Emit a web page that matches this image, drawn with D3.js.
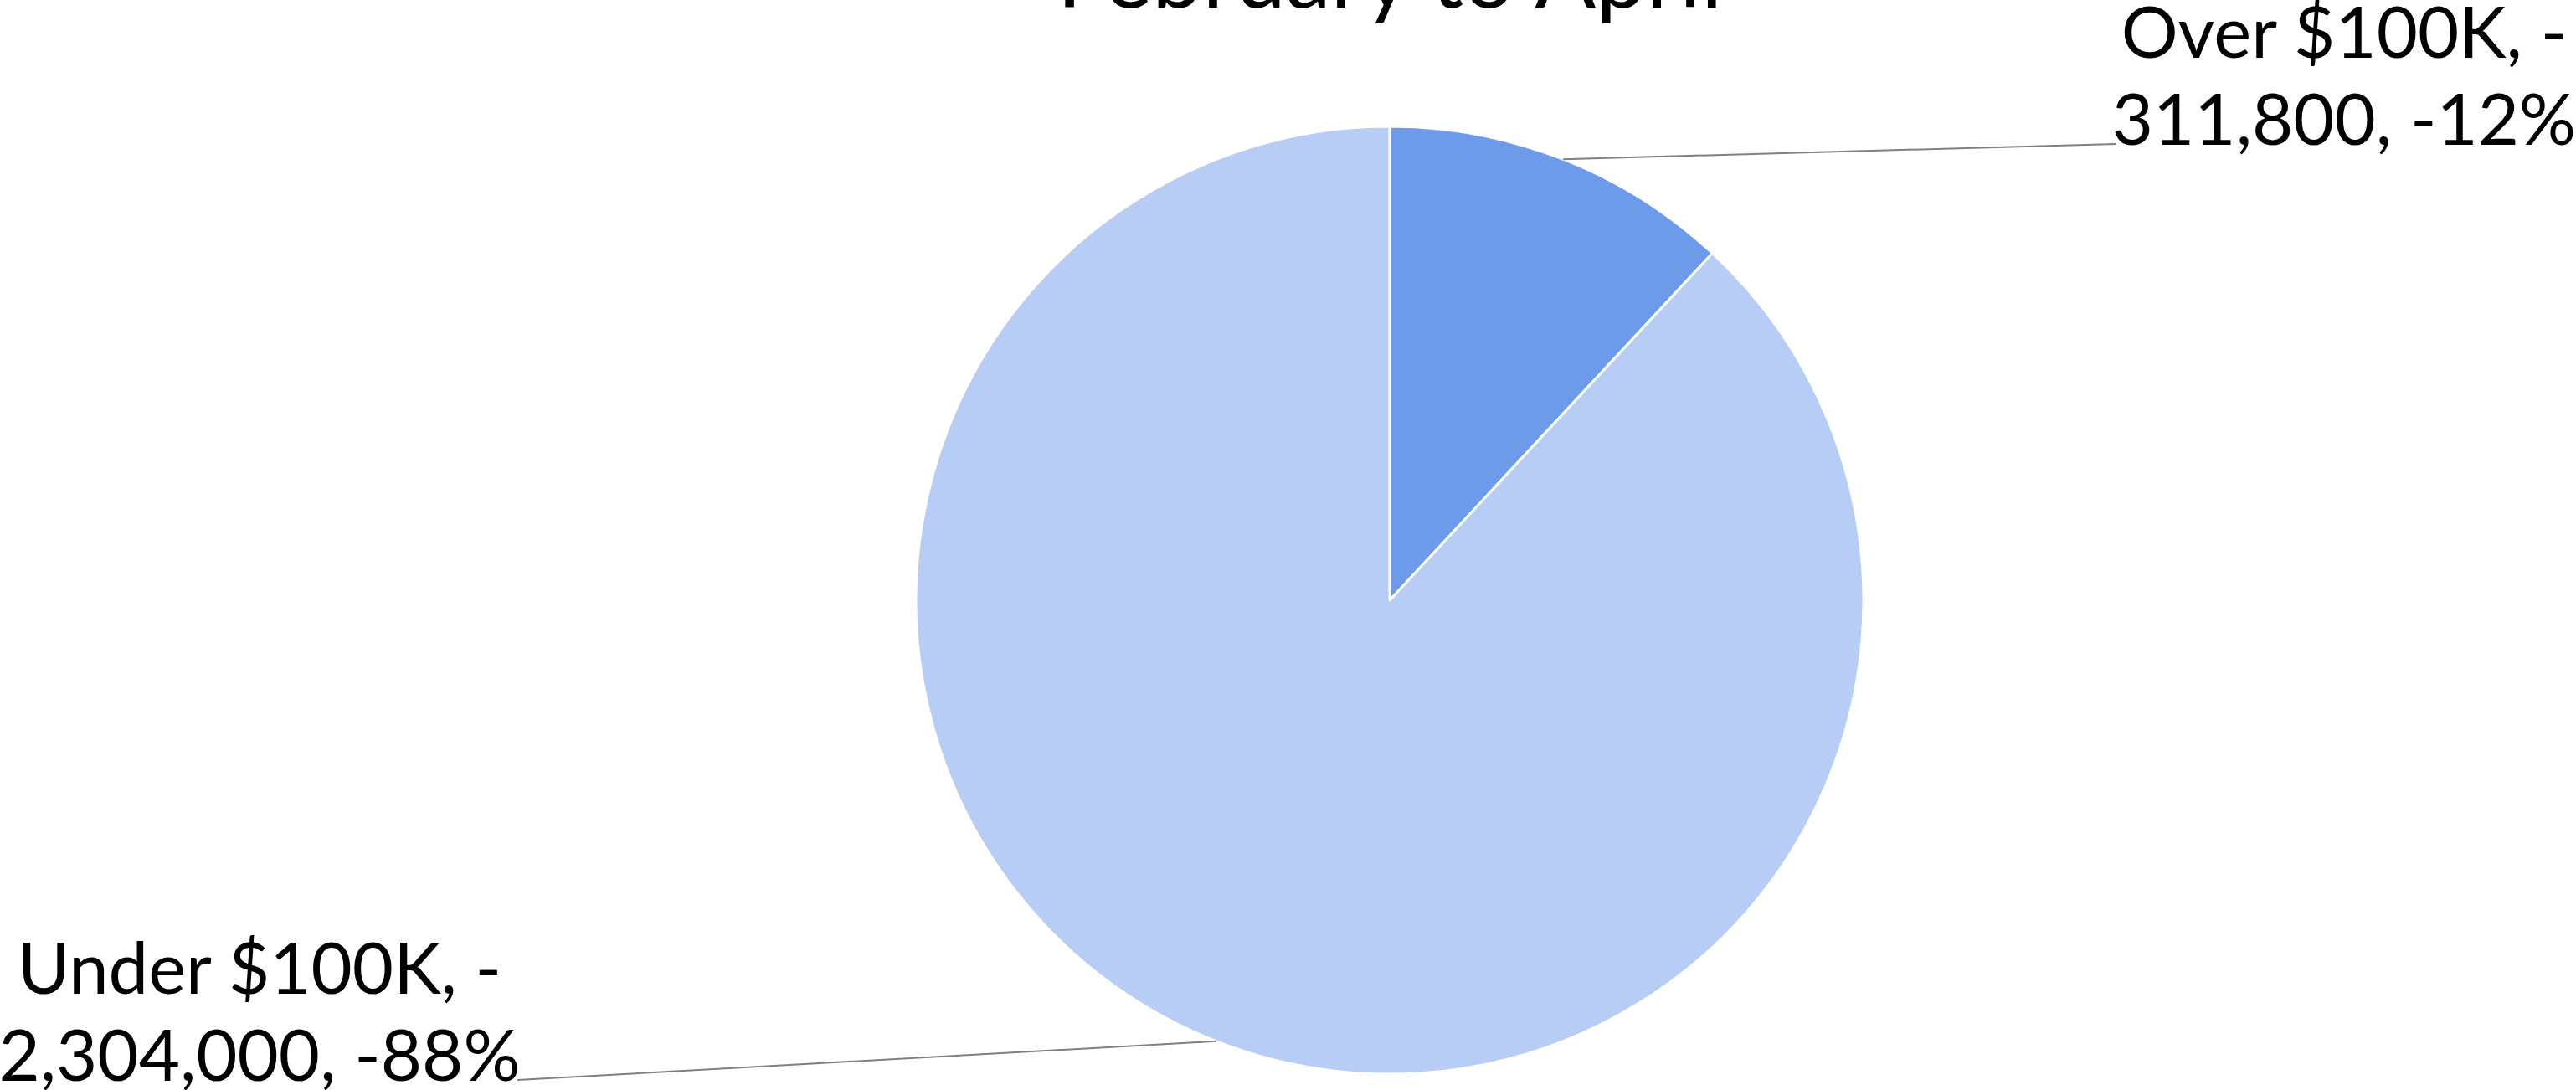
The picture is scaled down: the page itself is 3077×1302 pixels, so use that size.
<!DOCTYPE html>
<html>
<head>
<meta charset="utf-8">
<script src="https://cdn.jsdelivr.net/npm/d3@7"></script>
<style>
  html, body { margin: 0; padding: 0; background: #fff; }
  svg { display: block; }
  text { font-family: "Century Gothic", Lato, "Noto Sans", sans-serif; fill: #000; }
</style>
</head>
<body>
<div id="app"></div>
<script>
// chart data
const title = 'February to April';
const categories = ['Over $100K', 'Under $100K'];
const values = [-311800, -2304000];
const colors = ['#6d9be9', '#b7cdf5'];

const W = 3077, H = 1302;
const cx = 1660, cy = 717, radius = 566;

// label placement (text centre x, first baseline y) - layout only
const labelPos = [
  { x: 2800, y: 69 },
  { x: 310, y: 1187 }
];
const lineGap = 104;

const svg = d3.select('#app')
  .append('svg')
  .attr('width', W)
  .attr('height', H);

// title, mostly cropped off the top edge (as in the original)
svg.append('text')
  .attr('x', cx)
  .attr('y', 9)
  .attr('text-anchor', 'middle')
  .attr('font-size', 108)
  .text(title);

const total = d3.sum(values, v => Math.abs(v));
const pie = d3.pie().sort(null).value(v => Math.abs(v));
const arcs = pie(values);

const arc = d3.arc().innerRadius(0).outerRadius(radius);

const g = svg.append('g').attr('transform', `translate(${cx},${cy})`);

g.selectAll('path')
  .data(arcs)
  .join('path')
  .attr('d', arc)
  .attr('fill', (d, i) => colors[i])
  .attr('stroke', '#fff')
  .attr('stroke-width', 3)
  .attr('stroke-linejoin', 'round');

const fmt = d3.format(',');

// leader lines from the slice middle on the rim to the label
const rim = d3.arc().innerRadius(radius).outerRadius(radius);
const leaderEnd = [
  { x: 2527, y: 172 },
  { x: 618, y: 1290 }
];

svg.append('g')
  .selectAll('line')
  .data(arcs)
  .join('line')
  .attr('x1', d => cx + rim.centroid(d)[0])
  .attr('y1', d => cy + rim.centroid(d)[1])
  .attr('x2', (d, i) => leaderEnd[i].x)
  .attr('y2', (d, i) => leaderEnd[i].y)
  .attr('stroke', '#7f7f7f')
  .attr('stroke-width', 2);

// data labels: "Category, value, percent" wrapped after the first minus sign
const labels = svg.append('g')
  .selectAll('text')
  .data(arcs)
  .join('text')
  .attr('text-anchor', 'middle')
  .attr('font-size', 85);

labels.each(function(d, i) {
  const v = values[i];
  const pct = Math.round(Math.abs(v) / total * 100);
  const lines = [
    `${categories[i]}, -`,
    `${fmt(Math.abs(v))}, -${pct}%`
  ];
  d3.select(this).selectAll('tspan')
    .data(lines)
    .join('tspan')
    .attr('x', labelPos[i].x)
    .attr('y', (t, j) => labelPos[i].y + j * lineGap)
    .text(t => t);
});
</script>
</body>
</html>
